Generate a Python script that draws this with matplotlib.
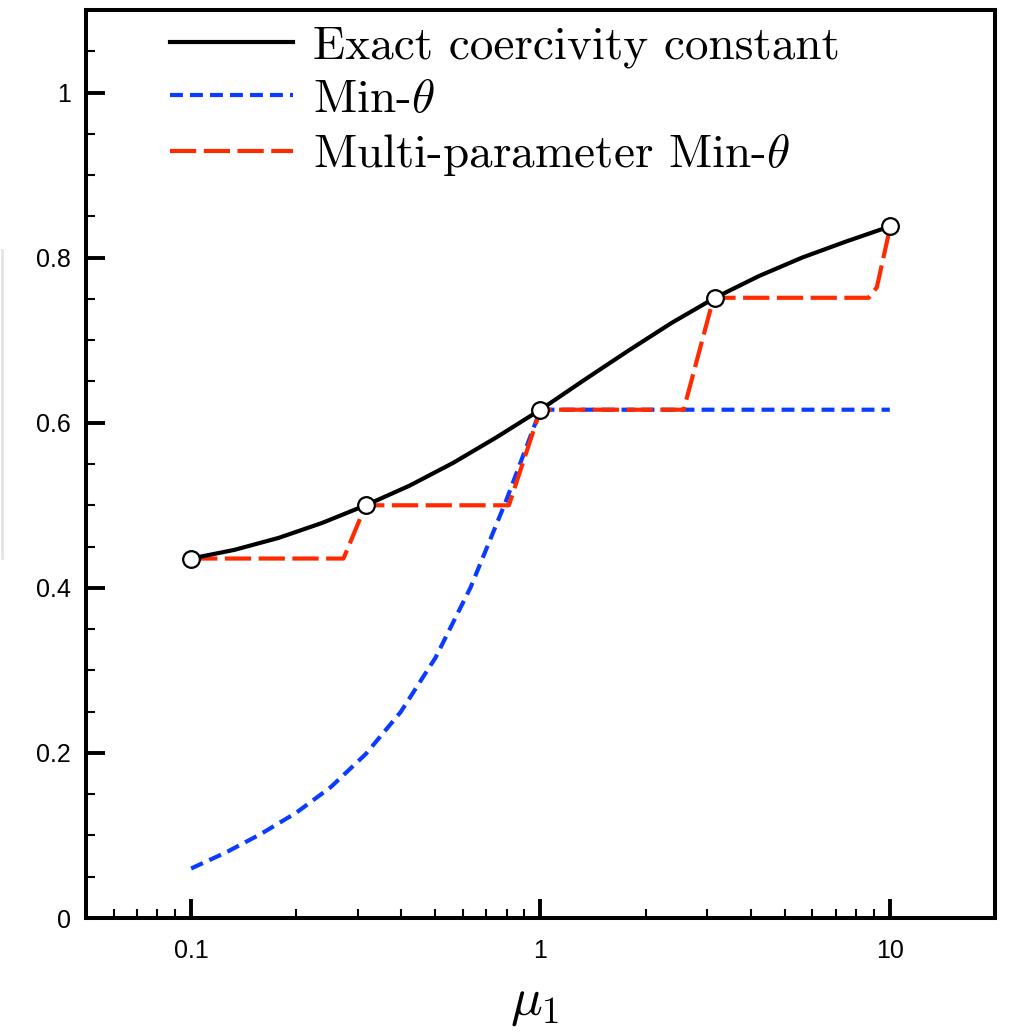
import matplotlib
matplotlib.use("Agg")
import matplotlib.pyplot as plt
from matplotlib.ticker import MultipleLocator, FixedLocator, LogLocator, NullFormatter
from matplotlib.lines import Line2D

plt.rcParams["mathtext.fontset"] = "cm"
plt.rcParams["font.family"] = ["Liberation Sans", "DejaVu Sans"]

# exact coercivity constant
mu_exact = [0.1, 0.133, 0.178, 0.237, 0.316, 0.422, 0.562, 0.75, 1.0,
            1.33, 1.78, 2.37, 3.16, 4.22, 5.62, 7.5, 10.0]
alpha_exact = [0.4355, 0.446, 0.4605, 0.4786, 0.500, 0.5238, 0.5513, 0.5826,
               0.6158, 0.6514, 0.687, 0.7208, 0.7514, 0.7777, 0.8002, 0.8196,
               0.8378]

# sample points (circles)
mu_samples = [0.1, 0.316, 1.0, 3.16, 10.0]
alpha_samples = [0.4355, 0.500, 0.6158, 0.7514, 0.8378]

# Min-theta lower bound
mu_min = [0.1, 0.126, 0.158, 0.2, 0.251, 0.316, 0.398, 0.501, 0.631, 0.794,
          1.0, 10.0]
alpha_min = [0.060, 0.0796, 0.1016, 0.1276, 0.1586, 0.1986, 0.2496, 0.3156,
             0.4006, 0.5036, 0.6158, 0.6158]

# multi-parameter Min-theta
mu_multi = [0.1, 0.273, 0.316, 0.812, 1.0, 2.57, 3.13, 8.7, 9.18, 9.95, 10.0]
alpha_multi = [0.4355, 0.4355, 0.500, 0.500, 0.6158, 0.6158, 0.7514, 0.7514,
               0.764, 0.831, 0.8378]

fig = plt.figure(figsize=(10.09, 10.33), dpi=100)
ax = fig.add_axes([0.0852, 0.1113, 0.9009, 0.8790])

ax.plot(mu_min, alpha_min, color="#0a3cff", lw=3.0, dashes=(3.1, 1.7),
        label=r"Min-$\theta$", zorder=2)
ax.plot(mu_multi, alpha_multi, color="#ff2a00", lw=3.0, dashes=(6.3, 1.8),
        label=r"Multi-parameter Min-$\theta$", zorder=3)
ax.plot(mu_exact, alpha_exact, color="black", lw=3.0,
        label="Exact coercivity constant", zorder=4)
ax.plot(mu_samples, alpha_samples, "o", ms=12, mfc="white", mec="black",
        mew=1.6, zorder=5)

ax.set_xscale("log")
ax.set_xlim(0.05, 20)
ax.set_ylim(0, 1.1)

ax.xaxis.set_major_locator(FixedLocator([0.1, 1, 10]))
ax.set_xticklabels(["0.1", "1", "10"])
ax.xaxis.set_minor_locator(LogLocator(base=10, subs=range(2, 10)))
ax.xaxis.set_minor_formatter(NullFormatter())
ax.yaxis.set_major_locator(FixedLocator([0, 0.2, 0.4, 0.6, 0.8, 1.0]))
ax.set_yticklabels(["0", "0.2", "0.4", "0.6", "0.8", "1"])
ax.yaxis.set_minor_locator(MultipleLocator(0.05))

ax.tick_params(which="both", direction="in", top=False, right=False, labelsize=18)
ax.tick_params(which="major", length=14, width=2.8)
ax.tick_params(which="minor", length=6.5, width=1.5)
ax.tick_params(axis="y", pad=11)
ax.tick_params(axis="x", pad=15)
for s in ax.spines.values():
    s.set_linewidth(2.9)

ax.set_xlabel(r"$\mu_1$", fontsize=38)
ax.xaxis.set_label_coords(0.494, -0.066)

handles, labels = ax.get_legend_handles_labels()
order = [2, 0, 1]
ax.legend([handles[i] for i in order], [labels[i] for i in order],
          loc="upper left", bbox_to_anchor=(0.092, 0.9825), frameon=False,
          borderaxespad=0, borderpad=0, handlelength=2.61, handletextpad=0.42,
          labelspacing=0.22, prop={"family": "cmr10", "size": 34})

# leftover bracket at the left edge
fig.add_artist(Line2D([2 / 1009, 2 / 1009], [1 - 250 / 1033, 1 - 558 / 1033],
                      transform=fig.transFigure, color="#e4e4e4", lw=2))

fig.savefig("out.png", dpi=100)
